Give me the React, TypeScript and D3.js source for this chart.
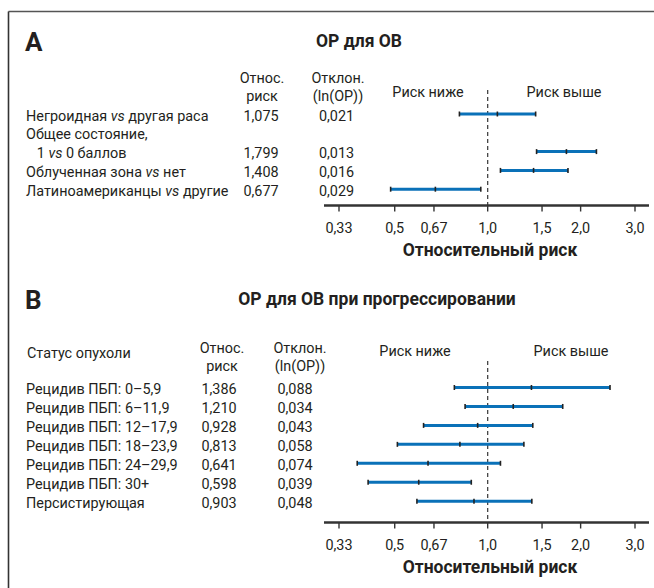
import React from "react";
import * as d3 from "d3";

// Panel A: overall survival hazard ratios by baseline factor
const factorsA = [
  ["Негроидная |vs| другая раса"],
  ["Общее состояние,", "   1 |vs| 0 баллов"],
  ["Облученная зона |vs| нет"],
  ["Латиноамериканцы |vs| другие"],
];
const rrA = ["1,075", "1,799", "1,408", "0,677"];
const devA = ["0,021", "0,013", "0,016", "0,029"];
const pointA = [1.075, 1.799, 1.408, 0.677];
const lowA = [0.81, 1.44, 1.1, 0.485];
const highA = [1.43, 2.25, 1.82, 0.95];

// Panel B: overall survival after progression by tumour status
const factorsB = [
  ["Рецидив ПБП: 0–5,9"],
  ["Рецидив ПБП: 6–11,9"],
  ["Рецидив ПБП: 12–17,9"],
  ["Рецидив ПБП: 18–23,9"],
  ["Рецидив ПБП: 24–29,9"],
  ["Рецидив ПБП: 30+"],
  ["Персистирующая"],
];
const rrB = ["1,386", "1,210", "0,928", "0,813", "0,641", "0,598", "0,903"];
const devB = ["0,088", "0,034", "0,043", "0,058", "0,074", "0,039", "0,048"];
const pointB = [1.386, 1.21, 0.928, 0.813, 0.641, 0.598, 0.903];
const lowB = [0.78, 0.845, 0.62, 0.51, 0.378, 0.41, 0.59];
const highB = [2.49, 1.75, 1.4, 1.31, 1.1, 0.885, 1.39];

const tickValues = [0.33, 0.5, 0.67, 1.0, 1.5, 2.0, 3.0];
const tickLabels = ["0,33", "0,5", "0,67", "1,0", "1,5", "2,0", "3,0"];

const FONT = "Roboto, 'Open Sans', sans-serif";
const TEXT = "#231f20";
const BLUE = "#0a71b8";
const FS = 14.4;
const BOLD_FS = 17.5;

const x = d3.scaleLog().domain([0.33, 3.0]).range([339, 635]);

// Renders a label where segments between | are italic
function Rich({ s }: { s: string }) {
  const parts = s.split("|");
  return (
    <>
      {parts.map((p, i) => (
        <tspan key={i} fontStyle={i % 2 === 1 ? "italic" : "normal"}>
          {p}
        </tspan>
      ))}
    </>
  );
}

type PanelProps = {
  letter: string;
  letterY: number;
  title: string;
  titleX: number;
  titleY: number;
  firstHeader?: string;
  firstHeaderY?: number;
  headerY: number;
  rrColX: number;
  rrValX: number;
  devColX: number;
  devValX: number;
  riskLabelY: number;
  riskLowX: number;
  riskHighX: number;
  dashTop: number;
  rowStart: number;
  rowStep: number;
  factors: string[][];
  rr: string[];
  dev: string[];
  point: number[];
  low: number[];
  high: number[];
  axisY: number;
};

function ForestPanel(p: PanelProps) {
  // Assign a line index to each label line; values go on the last line of a factor
  const rows: { lines: { text: string; y: number }[]; y: number }[] = [];
  let li = 0;
  p.factors.forEach((f) => {
    const lines = f.map((t) => ({ text: t, y: p.rowStart + (li++) * p.rowStep }));
    rows.push({ lines, y: lines[lines.length - 1].y });
  });
  const x1 = x(1);
  return (
    <g fontFamily={FONT} fill={TEXT}>
      <text x={25} y={p.letterY} fontSize={26} fontWeight={700}>
        {p.letter}
      </text>
      <text x={p.titleX} y={p.titleY} fontSize={BOLD_FS} fontWeight={700} textAnchor="middle">
        {p.title}
      </text>
      {p.firstHeader && (
        <text x={27} y={p.firstHeaderY} fontSize={FS}>
          {p.firstHeader}
        </text>
      )}
      <g fontSize={FS} textAnchor="middle">
        <text x={p.rrColX} y={p.headerY}>Относ.</text>
        <text x={p.rrColX} y={p.headerY + 18}>риск</text>
        <text x={p.devColX} y={p.headerY}>Отклон.</text>
        <text x={p.devColX} y={p.headerY + 18}>(ln(OP))</text>
        <text x={p.riskLowX} y={p.riskLabelY}>Риск ниже</text>
        <text x={p.riskHighX} y={p.riskLabelY}>Риск выше</text>
      </g>
      {rows.map((r, i) => (
        <g key={i} fontSize={FS}>
          {r.lines.map((l, j) => (
            <text key={j} x={26} y={l.y + 5} xmlSpace="preserve" style={{ whiteSpace: "pre" }}>
              <Rich s={l.text} />
            </text>
          ))}
          <text x={p.rrValX} y={r.y + 5} textAnchor="middle">{p.rr[i]}</text>
          <text x={p.devValX} y={r.y + 5} textAnchor="middle">{p.dev[i]}</text>
        </g>
      ))}
      {/* reference line at relative risk 1 */}
      <line x1={x1} x2={x1} y1={p.dashTop} y2={p.axisY} stroke="#444" strokeWidth={1.3} strokeDasharray="4,3" />
      {rows.map((r, i) => {
        const cy = r.y - 1.5;
        return (
          <g key={"ci" + i}>
            <line x1={x(p.low[i])} x2={x(p.high[i])} y1={cy} y2={cy} stroke={BLUE} strokeWidth={3} />
            {[p.low[i], p.point[i], p.high[i]].map((v, k) => (
              <line key={k} x1={x(v)} x2={x(v)} y1={cy - 2.5} y2={cy + 2.5} stroke="#222" strokeWidth={1.6} />
            ))}
          </g>
        );
      })}
      {/* log-scaled axis */}
      <line x1={324} x2={649} y1={p.axisY} y2={p.axisY} stroke="#333" strokeWidth={2.4} />
      {tickValues.map((t, i) => (
        <g key={t}>
          <line x1={x(t)} x2={x(t)} y1={p.axisY} y2={p.axisY + 6} stroke="#333" strokeWidth={1.4} />
          <text x={x(t)} y={p.axisY + 27} fontSize={FS} textAnchor="middle">
            {tickLabels[i]}
          </text>
        </g>
      ))}
      <text x={490} y={p.axisY + 50} fontSize={BOLD_FS} fontWeight={700} textAnchor="middle">
        Относительный риск
      </text>
    </g>
  );
}

export default function App() {
  return (
    <svg
      width={654}
      height={588}
      style={{ position: "absolute", left: 0, top: 0, background: "#fff" }}
    >
      <rect x={0} y={0} width={654} height={588} fill="#fff" />
      <line x1={8.5} x2={654} y1={11.5} y2={11.5} stroke="#555" strokeWidth={1.6} />
      <line x1={8.5} x2={8.5} y1={11.5} y2={588} stroke="#333" strokeWidth={1.6} />
      <ForestPanel
        letter="A"
        letterY={51}
        title="ОР для ОВ"
        titleX={359}
        titleY={47}
        headerY={83}
        rrColX={262}
        rrValX={261}
        devColX={338}
        devValX={336.5}
        riskLabelY={96.5}
        riskLowX={428}
        riskHighX={564}
        dashTop={90}
        rowStart={115.5}
        rowStep={18.8}
        factors={factorsA}
        rr={rrA}
        dev={devA}
        point={pointA}
        low={lowA}
        high={highA}
        axisY={205.5}
      />
      <ForestPanel
        letter="B"
        letterY={309}
        title="ОР для ОВ при прогрессировании"
        titleX={377}
        titleY={305}
        firstHeader="Статус опухоли"
        firstHeaderY={357.5}
        headerY={353}
        rrColX={222}
        rrValX={219}
        devColX={300}
        devValX={295}
        riskLabelY={355.5}
        riskLowX={415}
        riskHighX={571}
        dashTop={361}
        rowStart={389}
        rowStep={18.95}
        factors={factorsB}
        rr={rrB}
        dev={devB}
        point={pointB}
        low={lowB}
        high={highB}
        axisY={522.5}
      />
    </svg>
  );
}
